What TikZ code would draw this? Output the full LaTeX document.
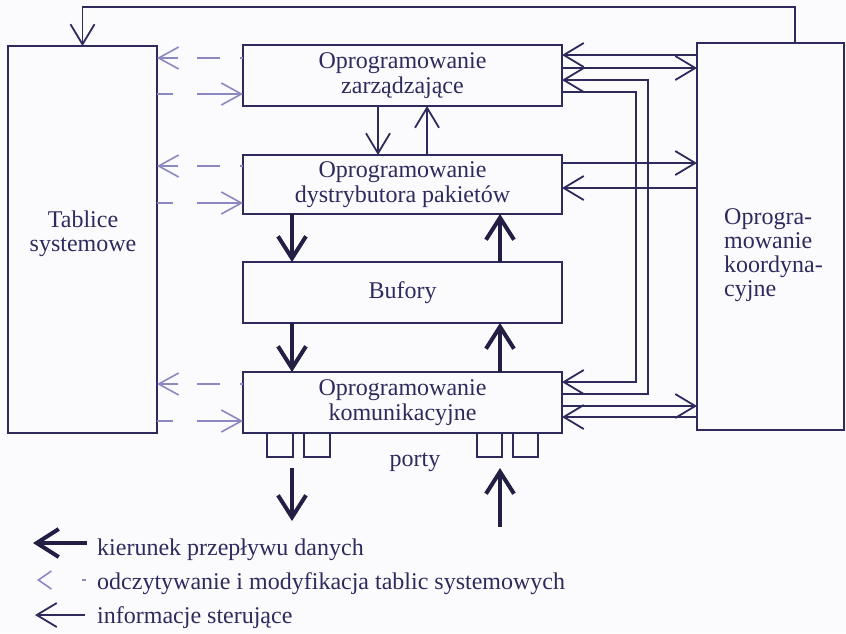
\documentclass[tikz,border=0pt]{standalone}
\usepackage{fontspec}
\setmainfont{Liberation Serif}
\usetikzlibrary{arrows.meta}
\definecolor{ink}{HTML}{2E2A5C}
\definecolor{inkdark}{HTML}{221E44}
\definecolor{dashc}{HTML}{8C88C2}
\definecolor{paper}{HTML}{FBFBFE}
\begin{document}
\begin{tikzpicture}[x=1pt,y=-1pt,
  box/.style={draw=ink, line width=1.8pt, rectangle, outer sep=0pt, inner sep=0pt,
    text=ink, font=\fontsize{24}{24.5}\selectfont, align=center},
  lbl/.style={text=ink, font=\fontsize{24}{24}\selectfont, inner sep=0pt},
  ctrl/.style={draw=ink, line width=1.8pt, -{Straight Barb[length=20pt,width=24pt]}},
  data/.style={draw=inkdark, line width=4pt, -{Straight Barb[length=22pt,width=28pt]}},
  dsh/.style={draw=dashc, line width=1.6pt, -{Straight Barb[length=20pt,width=22pt]}},
  dshL/.style={dsh, dash pattern=on 3pt off 20pt on 23pt off 19pt on 40pt},
  dshR/.style={dsh, dash pattern=on 16pt off 24pt on 50pt},
]
\path[use as bounding box, fill=paper] (0,0) rectangle (846,633);

% boxes
\node[box, minimum width=149pt, minimum height=387pt] (tab) at (82.5,239.5) {};
\node[lbl, align=center] (tabt) at (83,234) {Tablice\\systemowe};
\node[box, minimum width=319pt, minimum height=61pt] (zarz) at (402.5,75.5) {Oprogramowanie\\zarządzające};
\node[box, minimum width=319pt, minimum height=59pt] (dystr) at (402.5,184.5) {Oprogramowanie\\dystrybutora pakietów};
\node[box, minimum width=319pt, minimum height=61pt] (buf) at (402.5,292.5) {Bufory};
\node[box, minimum width=319pt, minimum height=61pt] (kom) at (402.5,402.5) {Oprogramowanie\\komunikacyjne};
\node[box, minimum width=147pt, minimum height=387pt] (koord) at (770.5,236.5) {};
\node[lbl, align=left, anchor=west] (koordt) at (724,255) {Oprogra-\\mowanie\\koordyna-\\cyjne};

% ports
\node[box, minimum width=26pt, minimum height=24pt] (p1) at (280,445) {};
\node[box, minimum width=26pt, minimum height=24pt] (p2) at (317,445) {};
\node[box, minimum width=25pt, minimum height=24pt] (p3) at (489.5,445) {};
\node[box, minimum width=25pt, minimum height=24pt] (p4) at (525.5,445) {};
\node[lbl] (porty) at (415,462) {porty};

% data flow (bold)
\draw[data] (dystr.south -| 292,0) -- (buf.north -| 292,0);
\draw[data] (buf.north -| 500,0) -- (dystr.south -| 500,0);
\draw[data] (buf.south -| 292,0) -- (kom.north -| 292,0);
\draw[data] (kom.north -| 500,0) -- (buf.south -| 500,0);
\coordinate (outA) at (292,468);
\coordinate (outB) at (292,521);
\draw[data] (outA) -- (outB);
\coordinate (inA) at (500,527);
\coordinate (inB) at (500,468);
\draw[data] (inA) -- (inB);

% control information (thin)
\draw[ctrl] (zarz.south -| 378,0) -- (dystr.north -| 378,0);
\draw[ctrl] (dystr.north -| 427,0) -- (zarz.south -| 427,0);
\draw[ctrl] (koord.west |- 0,55) -- (zarz.east |- 0,55);
\draw[ctrl] (zarz.east |- 0,68) -- (koord.west |- 0,68);
\draw[ctrl] (kom.east |- 0,394) -- ++(86,0) |- (zarz.east |- 0,80);
\draw[ctrl] (zarz.east |- 0,92) -- ++(74,0) |- (kom.east |- 0,382);
\draw[ctrl] (dystr.east |- 0,163) -- (koord.west |- 0,163);
\draw[ctrl] (koord.west |- 0,188) -- (dystr.east |- 0,188);
\draw[ctrl] (kom.east |- 0,406) -- (koord.west |- 0,406);
\draw[ctrl] (koord.west |- 0,417) -- (kom.east |- 0,417);
\draw[ctrl] (koord.north -| 795,0) -- ++(0,-36) -| (tab.north);

% system tables access (dashed)
\draw[dshL] (zarz.west |- 0,58) -- (tab.east |- 0,58);
\draw[dshR] (tab.east |- 0,94) -- (zarz.west |- 0,94);
\draw[dshL] (dystr.west |- 0,166) -- (tab.east |- 0,166);
\draw[dshR] (tab.east |- 0,203) -- (dystr.west |- 0,203);
\draw[dshL] (kom.west |- 0,384) -- (tab.east |- 0,384);
\draw[dshR] (tab.east |- 0,421) -- (kom.west |- 0,421);

% legend
\coordinate (l1a) at (87,543);
\coordinate (l1b) at (33,543);
\draw[data] (l1a) -- (l1b);
\node[lbl, anchor=base west] (t1) at (97,555) {kierunek przepływu danych};
\coordinate (l2a) at (86,580);
\coordinate (l2b) at (37,580);
\draw[draw=dashc, line width=1.6pt, dash pattern=on 4pt off 60pt, -{Straight Barb[length=13pt,width=18pt]}] (l2a) -- (l2b);
\node[lbl, anchor=base west] (t2) at (97,589) {odczytywanie i modyfikacja tablic systemowych};
\coordinate (l3a) at (85,615);
\coordinate (l3b) at (35,615);
\draw[ctrl] (l3a) -- (l3b);
\node[lbl, anchor=base west] (t3) at (97,623) {informacje sterujące};
\end{tikzpicture}
\end{document}
